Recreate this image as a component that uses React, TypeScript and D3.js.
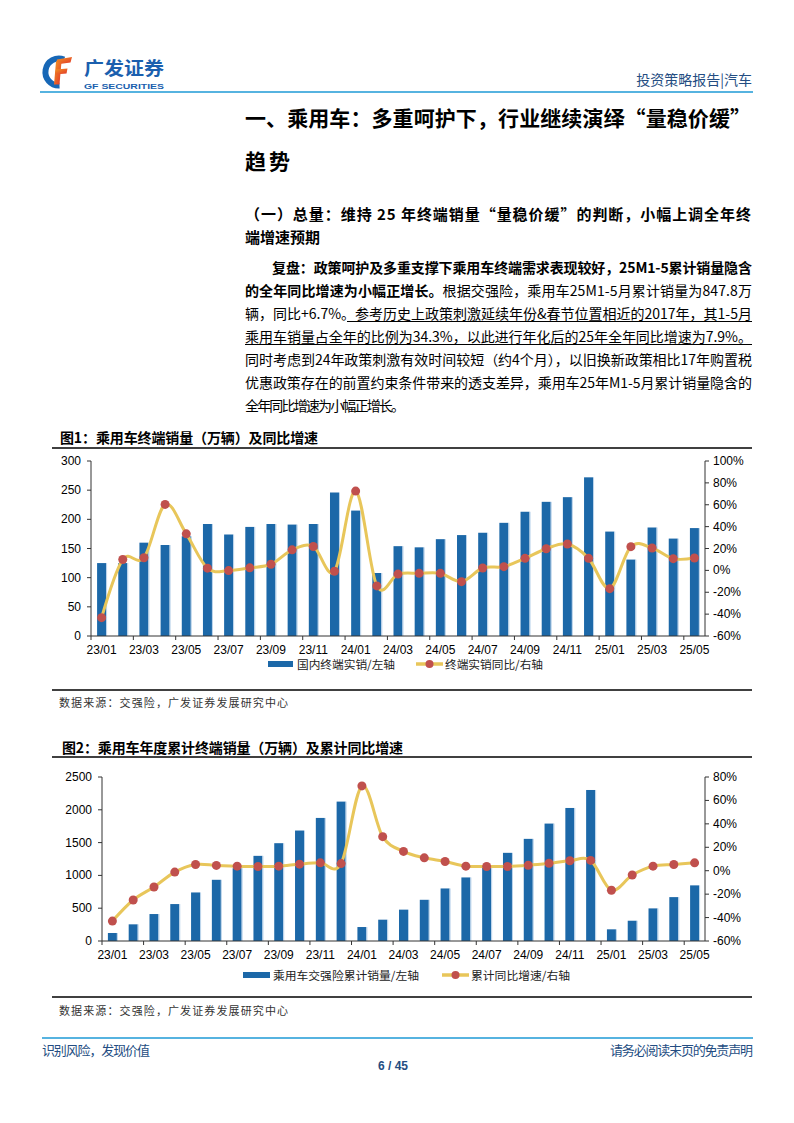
import React from 'react';
import * as d3 from 'd3';

// ---------- DATA ----------
const months = [
  '23/01','23/02','23/03','23/04','23/05','23/06','23/07','23/08','23/09','23/10','23/11','23/12',
  '24/01','24/02','24/03','24/04','24/05','24/06','24/07','24/08','24/09','24/10','24/11','24/12',
  '25/01','25/02','25/03','25/04','25/05',
];
// 国内终端实销（万辆）
const monthlySales = [125,125,160,156,171,192,174,187,192,191,192,246,215,108,154,152,166,173,177,194,213,230,238,272,179,131,186,167,185];
// 终端实销同比（%）
const monthlyYoy = [-43.2,9.9,11.5,60.3,33.4,2.0,-0.2,2.3,5.6,18.8,21.8,-0.8,72.5,-14.2,-3.4,-2.7,-2.7,-10.3,2.2,3.4,11.0,19.8,24.1,11.0,-16.7,21.7,20.5,10.7,11.3];
// 乘用车交强险累计销量（万辆）
const cumSales = [122,254,411,563,740,933,1110,1298,1491,1684,1876,2125,213,325,478,628,801,969,1141,1344,1557,1790,2028,2302,178,309,497,669,848];
// 累计同比增速（%）
const cumYoy = [-43,-25,-13.9,-1.2,5.3,4.5,3.9,3.6,3.9,5.6,6.7,6.1,72.4,29.1,16.5,11,7.9,3.9,3.6,3.6,4.7,6.4,8.5,8.8,-16.7,-3.7,3.9,5.3,6.7];

const leftTicks1 = [0,50,100,150,200,250,300];
const rightTicks1 = [-60,-40,-20,0,20,40,60,80,100];
const leftTicks2 = [0,500,1000,1500,2000,2500];
const rightTicks2 = [-60,-40,-20,0,20,40,60,80];

// ---------- STYLE ----------
const BAR = '#1c68a8';
const LINE = '#e8c65a';
const DOT = '#c0504d';
const AXIS = '#333333';
const HEADBLUE = '#1e9ad6';
const DARKBLUE = '#244d82';
const LATIN = "'Liberation Sans', Arial, 'Noto Sans CJK SC', sans-serif";
const CJK = "'Noto Sans CJK SC', 'Liberation Sans', sans-serif";

type Frame = { left: number; right: number; top: number; bottom: number };
type Legend = {
  y: number; rectX: number; rectW: number; text1: string; text1X: number; text1W: number;
  lineX: number; lineW: number; text2: string; text2X: number; text2W: number;
};

function ComboChart(props: {
  frame: Frame; bars: number[]; line: number[]; leftDomain: [number, number]; rightDomain: [number, number];
  leftTicks: number[]; rightTicks: number[]; legend: Legend;
}) {
  const { frame, bars, line, leftDomain, rightDomain, leftTicks, rightTicks, legend } = props;
  const x = d3.scaleBand<string>().domain(months).range([frame.left, frame.right]).padding(0);
  const yL = d3.scaleLinear().domain(leftDomain).range([frame.bottom, frame.top]);
  const yR = d3.scaleLinear().domain(rightDomain).range([frame.bottom, frame.top]);
  const bw = 9;
  const cx = (m: string) => (x(m) as number) + x.bandwidth() / 2;
  const pts: [number, number][] = months.map((m, i) => [cx(m), yR(line[i])]);
  const path = d3.line().curve(d3.curveCatmullRom.alpha(0))(pts) || '';
  return (
    <g>
      {months.map((m, i) => (
        <g key={m}>
          <rect x={cx(m) - bw / 2} y={yL(bars[i])} width={bw} height={frame.bottom - yL(bars[i])} fill={BAR} />
          <rect x={cx(m) + bw / 2} y={yL(bars[i])} width={1} height={frame.bottom - yL(bars[i])} fill="#b9d2ea" />
        </g>
      ))}
      {/* axes */}
      <line x1={frame.left} x2={frame.left} y1={frame.top} y2={frame.bottom} stroke={AXIS} strokeWidth={1} />
      <line x1={frame.right} x2={frame.right} y1={frame.top} y2={frame.bottom} stroke={AXIS} strokeWidth={1} />
      <line x1={frame.left} x2={frame.right} y1={frame.bottom} y2={frame.bottom} stroke={AXIS} strokeWidth={1} />
      {leftTicks.map((t) => (
        <g key={'l' + t}>
          <line x1={frame.left - 4} x2={frame.left} y1={yL(t)} y2={yL(t)} stroke={AXIS} />
          <text x={frame.left - 10} y={yL(t)} textAnchor="end" dominantBaseline="central" fontFamily={LATIN} fontSize={12} fill="#000">{t}</text>
        </g>
      ))}
      {rightTicks.map((t) => (
        <g key={'r' + t}>
          <line x1={frame.right} x2={frame.right + 4} y1={yR(t)} y2={yR(t)} stroke={AXIS} />
          <text x={frame.right + 8} y={yR(t)} dominantBaseline="central" fontFamily={LATIN} fontSize={12} fill="#000">{t + '%'}</text>
        </g>
      ))}
      {months.map((m, i) => i % 2 === 0 ? (
        <g key={'x' + m}>
          <line x1={x(m) as number} x2={x(m) as number} y1={frame.bottom} y2={frame.bottom + 4} stroke={AXIS} />
          <text x={cx(m)} y={frame.bottom + 14} textAnchor="middle" dominantBaseline="central" fontFamily={LATIN} fontSize={12} fill="#000">{m}</text>
        </g>
      ) : null)}
      <path d={path} fill="none" stroke={LINE} strokeWidth={3} />
      {pts.map((p, i) => <circle key={'d' + i} cx={p[0]} cy={p[1]} r={4.5} fill={DOT} />)}
      {/* legend */}
      <rect x={legend.rectX} y={legend.y - 3} width={legend.rectW} height={6} fill={BAR} />
      <text x={legend.text1X} y={legend.y} dominantBaseline="central" fontFamily={CJK} fontSize={11.5} textLength={legend.text1W} lengthAdjust="spacingAndGlyphs" fill="#222">{legend.text1}</text>
      <line x1={legend.lineX} x2={legend.lineX + legend.lineW} y1={legend.y} y2={legend.y} stroke={LINE} strokeWidth={3.5} />
      <circle cx={legend.lineX + legend.lineW / 2} cy={legend.y} r={4} fill={DOT} />
      <text x={legend.text2X} y={legend.y} dominantBaseline="central" fontFamily={CJK} fontSize={11.5} textLength={legend.text2W} lengthAdjust="spacingAndGlyphs" fill="#222">{legend.text2}</text>
    </g>
  );
}

function Logo() {
  return (
    <g>
      <defs>
        <linearGradient id="fgrad" x1="0" y1="0" x2="1" y2="1">
          <stop offset="0" stopColor="#f29a22" />
          <stop offset="1" stopColor="#e2322b" />
        </linearGradient>
      </defs>
      <path d="M64,59.5 A13.5,13.5 0 1 0 59.5,85.5" fill="none" stroke="#1767b6" strokeWidth={6} />
      <polygon points="57,59.5 72,57 70.5,62.5 56,64.5" fill="url(#fgrad)" />
      <polygon points="56,61.5 61.5,61.5 59.5,84.5 54,84.5" fill="url(#fgrad)" />
      <polygon points="56,69.5 67.5,68.5 66.5,73.5 55,74.5" fill="url(#fgrad)" />
      <text x={84} y={67} dominantBaseline="central" fontFamily={CJK} fontWeight={700} fontSize={18} fill="#1b5fae" textLength={80} lengthAdjust="spacingAndGlyphs">广发证券</text>
      <text x={84} y={86.5} dominantBaseline="central" fontFamily={LATIN} fontWeight={700} fontSize={8} fill="#1b5fae" textLength={80} lengthAdjust="spacingAndGlyphs">GF SECURITIES</text>
    </g>
  );
}

export default function App() {
  const frame1: Frame = { left: 91, right: 705, top: 461, bottom: 636 };
  const frame2: Frame = { left: 102, right: 705, top: 777, bottom: 941 };
  const lh = 23;
  const p0 = 267;
  const body = { fontFamily: CJK, fontSize: 14, fill: '#000' } as const;
  return (
    <div style={{ position: 'absolute', left: 0, top: 0 }}>
      <svg width={794} height={1123} viewBox="0 0 794 1123" style={{ display: 'block', background: '#fff' }}>
        {/* header */}
        <Logo />
        <text x={752} y={79} textAnchor="end" dominantBaseline="central" fontFamily={CJK} fontSize={14} fill={DARKBLUE}>投资策略报告|汽车</text>
        <line x1={40} x2={753} y1={92} y2={92} stroke={HEADBLUE} strokeWidth={1.5} />

        {/* titles */}
        <text x={245} y={117} dominantBaseline="central" fontFamily={CJK} fontWeight={700} fontSize={21} fill="#000" textLength={506} lengthAdjust="spacing">一、乘用车：多重呵护下，行业继续演绎“量稳价缓”</text>
        <text x={245} y={160} dominantBaseline="central" fontFamily={CJK} fontWeight={700} fontSize={21} fill="#000" textLength={45} lengthAdjust="spacing">趋势</text>
        <text x={245} y={213} dominantBaseline="central" fontFamily={CJK} fontWeight={700} fontSize={15} fill="#000" textLength={506} lengthAdjust="spacing">（一）总量：维持 25 年终端销量“量稳价缓”的判断，小幅上调全年终</text>
        <text x={245} y={236} dominantBaseline="central" fontFamily={CJK} fontWeight={700} fontSize={15} fill="#000">端增速预期</text>

        {/* paragraph */}
        <text x={272} y={p0} dominantBaseline="central" {...body} fontWeight={700} textLength={480} lengthAdjust="spacing">复盘：政策呵护及多重支撑下乘用车终端需求表现较好，25M1-5累计销量隐含</text>
        <text x={245} y={p0 + lh} dominantBaseline="central" {...body} textLength={507} lengthAdjust="spacing">
          <tspan fontWeight={700}>的全年同比增速为小幅正增长。</tspan>
          <tspan>根据交强险，乘用车25M1-5月累计销量为847.8万</tspan>
        </text>
        <text x={245} y={p0 + lh * 2} dominantBaseline="central" {...body} textLength={507} lengthAdjust="spacing">
          <tspan>辆，同比+6.7%。</tspan>
          <tspan>参考历史上政策刺激延续年份&amp;春节位置相近的2017年，其1-5月</tspan>
        </text>
        <line x1={347} x2={752} y1={p0 + lh * 2 + 8.5} y2={p0 + lh * 2 + 8.5} stroke="#000" strokeWidth={1} />
        <text x={245} y={p0 + lh * 3} dominantBaseline="central" {...body} textLength={507} lengthAdjust="spacing">乘用车销量占全年的比例为34.3%，以此进行年化后的25年全年同比增速为7.9%。</text>
        <line x1={245} x2={752} y1={p0 + lh * 3 + 8.5} y2={p0 + lh * 3 + 8.5} stroke="#000" strokeWidth={1} />
        <text x={245} y={p0 + lh * 4} dominantBaseline="central" {...body} textLength={507} lengthAdjust="spacing">同时考虑到24年政策刺激有效时间较短（约4个月），以旧换新政策相比17年购置税</text>
        <text x={245} y={p0 + lh * 5} dominantBaseline="central" {...body} textLength={507} lengthAdjust="spacing">优惠政策存在的前置约束条件带来的透支差异，乘用车25年M1-5月累计销量隐含的</text>
        <text x={245} y={p0 + lh * 6} dominantBaseline="central" {...body} textLength={160} lengthAdjust="spacing">全年同比增速为小幅正增长。</text>

        {/* figure 1 */}
        <text x={60} y={437} dominantBaseline="central" fontFamily={CJK} fontWeight={700} fontSize={14} fill="#000" textLength={258} lengthAdjust="spacing">图1：乘用车终端销量（万辆）及同比增速</text>
        <line x1={52} x2={752} y1={448} y2={448} stroke="#000" strokeWidth={1.5} />
        <ComboChart frame={frame1} bars={monthlySales} line={monthlyYoy} leftDomain={[0, 300]} rightDomain={[-60, 100]}
          leftTicks={leftTicks1} rightTicks={rightTicks1}
          legend={{ y: 664, rectX: 268, rectW: 25, text1: '国内终端实销/左轴', text1X: 297, text1W: 98,
            lineX: 416, lineW: 27, text2: '终端实销同比/右轴', text2X: 445, text2W: 98 }} />
        <line x1={52} x2={752} y1={690} y2={690} stroke="#000" strokeWidth={1.5} />
        <text x={59} y={702} dominantBaseline="central" fontFamily={CJK} fontSize={11} fill="#333" textLength={229} lengthAdjust="spacing">数据来源：交强险，广发证券发展研究中心</text>

        {/* figure 2 */}
        <text x={62} y={747} dominantBaseline="central" fontFamily={CJK} fontWeight={700} fontSize={14} fill="#000" textLength={341} lengthAdjust="spacing">图2：乘用车年度累计终端销量（万辆）及累计同比增速</text>
        <line x1={52} x2={752} y1={757} y2={757} stroke="#000" strokeWidth={1.5} />
        <ComboChart frame={frame2} bars={cumSales} line={cumYoy} leftDomain={[0, 2500]} rightDomain={[-60, 80]}
          leftTicks={leftTicks2} rightTicks={rightTicks2}
          legend={{ y: 975, rectX: 243, rectW: 27, text1: '乘用车交强险累计销量/左轴', text1X: 273, text1W: 146,
            lineX: 442, lineW: 27, text2: '累计同比增速/右轴', text2X: 471, text2W: 99 }} />
        <line x1={52} x2={752} y1={997} y2={997} stroke="#000" strokeWidth={1.5} />
        <text x={59} y={1010} dominantBaseline="central" fontFamily={CJK} fontSize={11} fill="#333" textLength={229} lengthAdjust="spacing">数据来源：交强险，广发证券发展研究中心</text>

        {/* footer */}
        <line x1={42} x2={753} y1={1038} y2={1038} stroke={HEADBLUE} strokeWidth={1.5} />
        <text x={42} y={1049} dominantBaseline="central" fontFamily={CJK} fontSize={13} fill={DARKBLUE} textLength={108} lengthAdjust="spacing">识别风险，发现价值</text>
        <text x={753} y={1049} textAnchor="end" dominantBaseline="central" fontFamily={CJK} fontSize={13} fill={DARKBLUE} textLength={143} lengthAdjust="spacing">请务必阅读末页的免责声明</text>
        <text x={393} y={1066} textAnchor="middle" dominantBaseline="central" fontFamily={LATIN} fontWeight={700} fontSize={12} fill={DARKBLUE}>6 / 45</text>
      </svg>
    </div>
  );
}
